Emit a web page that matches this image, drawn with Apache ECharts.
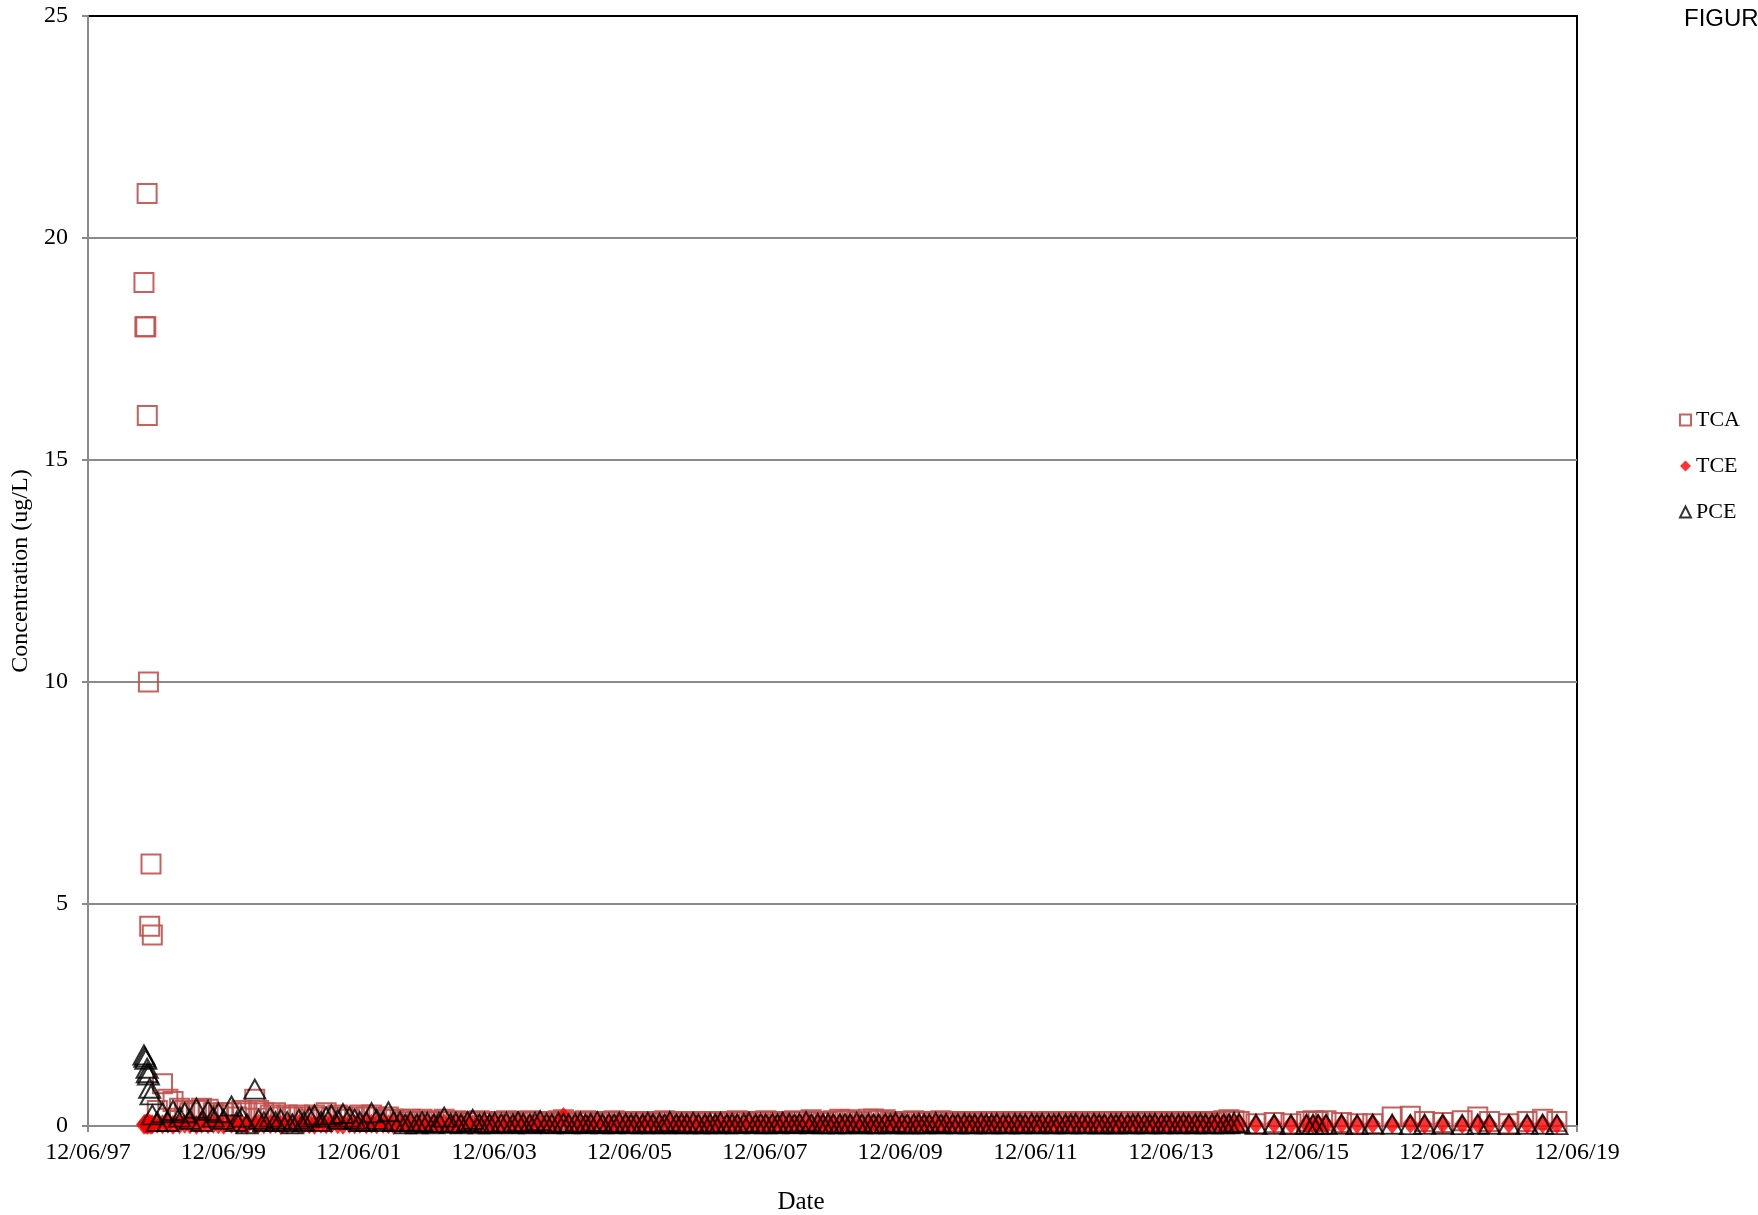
<!DOCTYPE html>
<html>
<head>
<meta charset="utf-8">
<title>Concentration over time</title>
<script src="https://cdn.jsdelivr.net/npm/echarts@6/dist/echarts.min.js"></script>
<style>
html,body{margin:0;padding:0;background:#fff;}
#chart{width:1758px;height:1215px;}
</style>
</head>
<body>
<div id="chart"></div>
<script>

// sample dates (1998-2014 roughly monthly, then quarterly)
var sampleDates = [
    '1998-10-04','1998-10-09','1998-10-14','1998-10-21','1998-10-22','1998-10-28','1998-11-04','1998-11-11','1998-11-18','1998-12-15',
    '1999-01-12','1999-02-10','1999-03-10','1999-04-14','1999-05-12','1999-06-09','1999-07-14','1999-08-11','1999-09-15','1999-10-13','1999-11-10','1999-12-08',
    '2000-01-19','2000-02-16','2000-03-15','2000-04-12','2000-05-24','2000-06-14','2000-07-12','2000-08-16','2000-09-13','2000-10-11','2000-11-15','2000-12-13',
    '2001-01-17','2001-02-14','2001-03-14','2001-04-11','2001-05-16','2001-06-13','2001-07-11','2001-08-15','2001-09-12','2001-10-17','2001-11-14','2001-12-12',
    '2002-01-16','2002-02-13','2002-03-13','2002-04-17','2002-05-15','2002-06-12','2002-07-17','2002-08-14','2002-09-11','2002-10-16','2002-11-13','2002-12-11',
    '2003-01-15','2003-02-12','2003-03-12','2003-04-16','2003-05-14','2003-06-11','2003-07-16','2003-08-13','2003-09-17','2003-10-15','2003-11-12','2003-12-10',
    '2004-01-14','2004-02-11','2004-03-17','2004-04-14','2004-05-12','2004-06-16','2004-07-14','2004-08-11','2004-09-15','2004-10-13','2004-11-17','2004-12-15',
    '2005-01-12','2005-02-16','2005-03-16','2005-04-13','2005-05-11','2005-06-15','2005-07-13','2005-08-17','2005-09-14','2005-10-12','2005-11-16','2005-12-14',
    '2006-01-11','2006-02-15','2006-03-15','2006-04-12','2006-05-17','2006-06-14','2006-07-12','2006-08-16','2006-09-13','2006-10-11','2006-11-15','2006-12-13',
    '2007-01-17','2007-02-14','2007-03-14','2007-04-11','2007-05-16','2007-06-13','2007-07-11','2007-08-15','2007-09-12','2007-10-17','2007-11-14','2007-12-12',
    '2008-01-16','2008-02-13','2008-03-12','2008-04-16','2008-05-14','2008-06-11','2008-07-16','2008-08-13','2008-09-17','2008-10-15','2008-11-12','2008-12-10',
    '2009-01-14','2009-02-11','2009-03-11','2009-04-15','2009-05-13','2009-06-17','2009-07-15','2009-08-12','2009-09-16','2009-10-14','2009-11-11','2009-12-16',
    '2010-01-13','2010-02-17','2010-03-17','2010-04-14','2010-05-12','2010-06-16','2010-07-14','2010-08-11','2010-09-15','2010-10-13','2010-11-17','2010-12-15',
    '2011-01-12','2011-02-16','2011-03-16','2011-04-13','2011-05-11','2011-06-15','2011-07-13','2011-08-17','2011-09-14','2011-10-12','2011-11-16','2011-12-14',
    '2012-01-11','2012-02-15','2012-03-14','2012-04-11','2012-05-16','2012-06-13','2012-07-11','2012-08-15','2012-09-12','2012-10-17','2012-11-14','2012-12-12',
    '2013-01-16','2013-02-13','2013-03-13','2013-04-17','2013-05-15','2013-06-12','2013-07-17','2013-08-14','2013-09-11','2013-10-16','2013-11-13','2013-12-11',
    '2014-01-15','2014-02-12','2014-03-12','2014-04-16','2014-05-14','2014-06-11','2014-07-16','2014-08-13','2014-09-17','2014-10-15','2014-11-12','2014-12-10',
    '2015-03-10','2015-06-16','2015-09-15','2015-12-08','2016-01-12','2016-02-09','2016-03-22','2016-06-14','2016-09-06','2016-11-29',
    '2017-03-14','2017-06-20','2017-09-05','2017-12-12','2018-03-27','2018-06-19','2018-08-21','2018-12-04','2019-03-12','2019-06-04','2019-08-20'
];

var tcaValues = [
    19, 18, 18, 21, 16, 10, 4.5, 5.9, 4.3, 0.35,
    0.95, 0.6, 0.55, 0.4, 0.35, 0.3, 0.35, 0.4, 0.38, 0.3, 0.25, 0.3,
    0.3, 0.2, 0.35, 0.3, 0.6, 0.35, 0.3, 0.25, 0.3, 0.2, 0.25, 0.2,
    0.25, 0.2, 0.15, 0.25, 0.2, 0.3, 0.2, 0.25, 0.2, 0.15, 0.2, 0.25,
    0.2, 0.25, 0.2, 0.15, 0.2, 0.15, 0.15, 0.1, 0.15, 0.1, 0.15, 0.1,
    0.12, 0.1, 0.15, 0.1, 0.12, 0.1, 0.08, 0.1, 0.12, 0.1, 0.08, 0.1,
    0.1, 0.12, 0.1, 0.08, 0.1, 0.12, 0.1, 0.1, 0.08, 0.1, 0.12, 0.14,
    0.1, 0.08, 0.1, 0.12, 0.1, 0.08, 0.1, 0.1, 0.12, 0.1, 0.08, 0.1,
    0.08, 0.1, 0.1, 0.08, 0.1, 0.12, 0.1, 0.08, 0.1, 0.1, 0.08, 0.1,
    0.1, 0.08, 0.1, 0.1, 0.08, 0.1, 0.12, 0.1, 0.08, 0.1, 0.1, 0.12,
    0.1, 0.1, 0.08, 0.1, 0.12, 0.1, 0.1, 0.14, 0.1, 0.08, 0.1, 0.12,
    0.15, 0.12, 0.14, 0.1, 0.1, 0.15, 0.16, 0.12, 0.14, 0.1, 0.08, 0.1,
    0.1, 0.12, 0.1, 0.08, 0.1, 0.1, 0.12, 0.1, 0.08, 0.1, 0.1, 0.08,
    0.1, 0.08, 0.1, 0.1, 0.08, 0.1, 0.1, 0.08, 0.1, 0.1, 0.08, 0.1,
    0.08, 0.1, 0.1, 0.08, 0.1, 0.1, 0.08, 0.1, 0.1, 0.08, 0.1, 0.1,
    0.1, 0.08, 0.1, 0.1, 0.08, 0.1, 0.1, 0.08, 0.1, 0.1, 0.08, 0.1,
    0.08, 0.1, 0.1, 0.08, 0.1, 0.1, 0.08, 0.1, 0.12, 0.14, 0.12, 0.1,
    0.05, 0.08, 0.05, 0.1, 0.12, 0.1, 0.12, 0.08, 0.05, 0.05,
    0.2, 0.22, 0.1, 0.08, 0.12, 0.2, 0.1, 0.05, 0.1, 0.15, 0.1
];

var tceValues = [
    0.03, 0.05, 0.04, 0.05, 0.03, 0.04, 0.05, 0.03, 0.04, 0.05,
    0.04, 0.05, 0.03, 0.04, 0.05, 0.04, 0.03, 0.05, 0.04, 0.05, 0.04, 0.03,
    0.05, 0.04, 0.05, 0.03, 0.04, 0.05, 0.04, 0.04, 0.05, 0.03, 0.04, 0.05,
    0.04, 0.05, 0.04, 0.03, 0.05, 0.04, 0.05, 0.04, 0.03, 0.05, 0.04, 0.05,
    0.04, 0.05, 0.04, 0.05, 0.04, 0.03, 0.05, 0.04, 0.05, 0.04, 0.05, 0.04,
    0.05, 0.04, 0.05, 0.04, 0.05, 0.04, 0.05, 0.04, 0.05, 0.04, 0.05, 0.04,
    0.04, 0.05, 0.04, 0.05, 0.04, 0.05, 0.04, 0.05, 0.04, 0.05, 0.04, 0.2,
    0.05, 0.04, 0.05, 0.04, 0.05, 0.04, 0.05, 0.04, 0.05, 0.04, 0.05, 0.04,
    0.04, 0.05, 0.04, 0.05, 0.04, 0.05, 0.04, 0.05, 0.04, 0.05, 0.04, 0.05,
    0.05, 0.04, 0.05, 0.04, 0.05, 0.04, 0.05, 0.04, 0.05, 0.04, 0.05, 0.04,
    0.04, 0.05, 0.04, 0.05, 0.04, 0.05, 0.06, 0.05, 0.04, 0.05, 0.04, 0.05,
    0.05, 0.04, 0.05, 0.04, 0.05, 0.04, 0.05, 0.04, 0.05, 0.04, 0.05, 0.04,
    0.04, 0.05, 0.04, 0.05, 0.04, 0.05, 0.04, 0.05, 0.04, 0.05, 0.04, 0.05,
    0.05, 0.04, 0.05, 0.04, 0.05, 0.04, 0.05, 0.04, 0.05, 0.04, 0.05, 0.04,
    0.04, 0.05, 0.04, 0.05, 0.04, 0.05, 0.04, 0.05, 0.04, 0.05, 0.04, 0.05,
    0.05, 0.04, 0.05, 0.04, 0.05, 0.04, 0.05, 0.04, 0.05, 0.04, 0.05, 0.04,
    0.04, 0.05, 0.04, 0.05, 0.04, 0.05, 0.04, 0.05, 0.04, 0.05, 0.04, 0.05,
    0.04, 0.05, 0.04, 0.05, 0.04, 0.05, 0.04, 0.05, 0.04, 0.05,
    0.04, 0.05, 0.04, 0.05, 0.04, 0.05, 0.04, 0.05, 0.04, 0.05, 0.04
];

var pceValues = [
    1.6, 1.55, 1.5, 1.3, 1.2, 1.15, 0.85, 0.7, 0.25, 0.1,
    0.3, 0.1, 0.35, 0.2, 0.3, 0.15, 0.4, 0.1, 0.35, 0.2, 0.3, 0.15,
    0.45, 0.1, 0.2, 0.05, 0.83, 0.15, 0.1, 0.2, 0.1, 0.15, 0.1, 0.05,
    0.15, 0.1, 0.2, 0.25, 0.1, 0.2, 0.25, 0.15, 0.28, 0.2, 0.15, 0.1,
    0.1, 0.3, 0.15, 0.1, 0.32, 0.1, 0.1, 0.05, 0.1, 0.05, 0.1, 0.08,
    0.05, 0.08, 0.2, 0.06, 0.08, 0.05, 0.1, 0.15, 0.05, 0.08, 0.05, 0.08,
    0.06, 0.08, 0.05, 0.1, 0.06, 0.05, 0.08, 0.12, 0.06, 0.05, 0.08, 0.06,
    0.05, 0.06, 0.08, 0.05, 0.06, 0.1, 0.05, 0.06, 0.05, 0.08, 0.06, 0.05,
    0.06, 0.05, 0.08, 0.05, 0.06, 0.05, 0.1, 0.05, 0.06, 0.05, 0.08, 0.05,
    0.05, 0.06, 0.05, 0.08, 0.05, 0.06, 0.05, 0.06, 0.08, 0.05, 0.06, 0.05,
    0.06, 0.05, 0.08, 0.06, 0.05, 0.06, 0.1, 0.05, 0.06, 0.05, 0.06, 0.05,
    0.05, 0.06, 0.05, 0.08, 0.05, 0.06, 0.05, 0.05, 0.06, 0.05, 0.08, 0.05,
    0.05, 0.05, 0.06, 0.05, 0.05, 0.08, 0.05, 0.06, 0.05, 0.05, 0.06, 0.05,
    0.05, 0.06, 0.05, 0.05, 0.06, 0.05, 0.05, 0.06, 0.05, 0.05, 0.06, 0.05,
    0.06, 0.05, 0.05, 0.06, 0.05, 0.05, 0.06, 0.05, 0.05, 0.06, 0.05, 0.05,
    0.05, 0.05, 0.06, 0.05, 0.05, 0.06, 0.05, 0.05, 0.06, 0.05, 0.05, 0.06,
    0.05, 0.06, 0.05, 0.05, 0.06, 0.05, 0.05, 0.06, 0.05, 0.05, 0.08, 0.06,
    0.04, 0.04, 0.03, 0.04, 0.04, 0.03, 0.04, 0.04, 0.03, 0.04,
    0.04, 0.03, 0.04, 0.04, 0.03, 0.04, 0.04, 0.03, 0.04, 0.04, 0.03
];

var xTickLabels = ['12/06/97','12/06/99','12/06/01','12/06/03','12/06/05','12/06/07',
                   '12/06/09','12/06/11','12/06/13','12/06/15','12/06/17','12/06/19'];

// x axis is in years counted from 12/06/97
var ORIGIN = Date.UTC(1997, 11, 6);
function toYears(s){
    var p = s.split('-');
    return (Date.UTC(+p[0], +p[1] - 1, +p[2]) - ORIGIN) / (365.25 * 86400000);
}
function pairs(values){
    return values.map(function(v, i){ return [toYears(sampleDates[i]), v]; });
}

var SERIF = '"Liberation Serif", "Times New Roman", serif';
var AXIS_GRAY = '#8a8a8a';

var myChart = echarts.init(document.getElementById('chart'), null, {renderer: 'canvas'});

myChart.setOption({
    animation: false,
    backgroundColor: '#fff',
    grid: {
        left: 88, top: 16, right: 181, bottom: 89,
        outerBoundsMode: 'none',
        show: true, borderColor: '#000', borderWidth: 2, backgroundColor: 'transparent'
    },
    legend: {
        orient: 'vertical',
        left: 1674, top: 404,
        itemWidth: 11, itemHeight: 11, itemGap: 24,
        textStyle: {fontFamily: SERIF, fontSize: 22, color: '#000'},
        data: ['TCA', 'TCE', 'PCE']
    },
    xAxis: {
        type: 'value', min: 0, max: 22, interval: 2,
        axisLine: {show: true, onZero: false, lineStyle: {color: AXIS_GRAY, width: 2}},
        axisTick: {show: true, length: 6, lineStyle: {color: AXIS_GRAY, width: 2}},
        splitLine: {show: false},
        axisLabel: {
            margin: 15, fontFamily: SERIF, fontSize: 24, color: '#000',
            formatter: function(v){ return xTickLabels[Math.round(v / 2)]; }
        }
    },
    yAxis: {
        type: 'value', min: 0, max: 25, interval: 5,
        name: 'Concentration (ug/L)', nameLocation: 'middle', nameGap: 47, nameRotate: 90,
        nameTextStyle: {fontFamily: SERIF, fontSize: 24, color: '#000'},
        axisLine: {show: true, lineStyle: {color: AXIS_GRAY, width: 2}},
        axisTick: {show: true, length: 6, lineStyle: {color: AXIS_GRAY, width: 2}},
        splitLine: {show: true, showMinLine: false, showMaxLine: false, lineStyle: {color: AXIS_GRAY, width: 2}},
        axisLabel: {margin: 20, fontFamily: SERIF, fontSize: 24, color: '#000'}
    },
    graphic: [
        {type: 'text', left: 1684, top: 7, style: {text: 'FIGUR', font: '24px "Liberation Sans", Arial, sans-serif', fill: '#000'}},
        {type: 'text', x: 801, y: 1202, style: {text: 'Date', font: '25px ' + SERIF, fill: '#000', align: 'center', verticalAlign: 'middle'}}
    ],
    series: [
        {
            name: 'TCA', type: 'scatter', symbol: 'rect', symbolSize: 19,
            itemStyle: {color: 'rgba(255,255,255,0)', borderColor: '#c0504d', borderWidth: 2, opacity: 0.9},
            data: pairs(tcaValues)
        },
        {
            name: 'TCE', type: 'scatter', symbol: 'diamond', symbolSize: [16, 20],
            itemStyle: {color: '#ff0000'},
            data: pairs(tceValues)
        },
        {
            name: 'PCE', type: 'scatter', symbol: 'triangle', symbolSize: [21, 19],
            itemStyle: {color: 'rgba(255,255,255,0)', borderColor: '#000', borderWidth: 2},
            data: pairs(pceValues)
        }
    ]
});

window.onresize = function(){
    myChart.resize();
};
</script>
</body>
</html>
